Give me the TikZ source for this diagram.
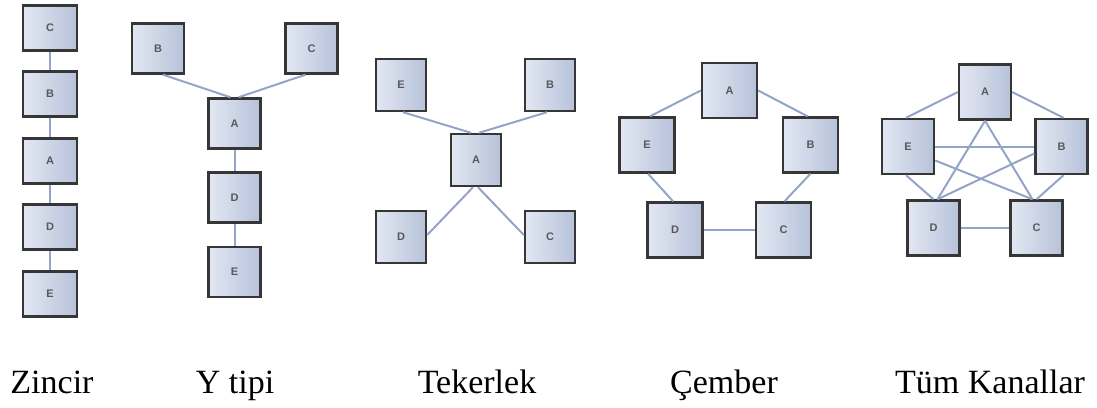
\documentclass[tikz,border=0pt]{standalone}
\usepackage{fontspec}
\setmainfont{Liberation Serif}
\newfontfamily\kutufont{Liberation Sans}
\usepackage{tikz}
\usetikzlibrary{shadows}

\definecolor{kenar}{HTML}{363636}
\definecolor{hatrenk}{HTML}{93A4C8}
\definecolor{acik}{HTML}{E2E7F2}
\definecolor{koyu}{HTML}{B7C2DA}

\tikzset{
  kutu/.style={draw=kenar, line width=2.4pt, left color=acik, right color=koyu,
    inner sep=0pt, font=\kutufont\fontsize{11}{13}\selectfont\bfseries,
    text=black!65, drop shadow={opacity=0.25, shadow xshift=1.2pt, shadow yshift=-1.2pt}},
  hat/.style={draw=hatrenk, line width=2pt},
  baslik/.style={anchor=base, font=\fontsize{34}{40}\selectfont}
}

\begin{document}
\begin{tikzpicture}[x=1pt, y=-1pt]
  \useasboundingbox (0,0) rectangle (1097,407);

  % Zincir
  \foreach \ad/\yy in {C/28, B/94, A/161, D/227, E/294}
    \node[kutu, minimum width=54pt, minimum height=45pt] (z\ad) at (50,\yy) {\ad};
  \draw[hat] (zC) -- (zB);
  \draw[hat] (zB) -- (zA);
  \draw[hat] (zA) -- (zD);
  \draw[hat] (zD) -- (zE);

  % Y tipi
  \tikzset{ykutu/.style={kutu, minimum width=52pt, minimum height=50pt}}
  \node[ykutu] (yB) at (158,48.5) {B};
  \node[ykutu] (yC) at (311.5,48.5) {C};
  \node[ykutu] (yA) at (234.5,123.5) {A};
  \node[ykutu] (yD) at (234.5,197.5) {D};
  \node[ykutu] (yE) at (234.5,272) {E};
  \draw[hat] ([xshift=5pt]yB.south) -- ([xshift=-4pt]yA.north);
  \draw[hat] ([xshift=-6pt]yC.south) -- ([xshift=4pt]yA.north);
  \draw[hat] (yA) -- (yD);
  \draw[hat] (yD) -- (yE);

  % Tekerlek
  \tikzset{tkutu/.style={kutu, minimum width=50pt, minimum height=52pt}}
  \node[tkutu] (tE) at (401,85) {E};
  \node[tkutu] (tB) at (550,85) {B};
  \node[tkutu] (tA) at (476,160) {A};
  \node[tkutu] (tD) at (401,237) {D};
  \node[tkutu] (tC) at (550,237) {C};
  \draw[hat] ([xshift=2pt]tE.south) -- ([xshift=-5pt]tA.north);
  \draw[hat] ([xshift=-3pt]tB.south) -- ([xshift=3pt]tA.north);
  \draw[hat] ([xshift=-3pt]tA.south) -- ([yshift=2pt]tD.east);
  \draw[hat] ([xshift=2pt]tA.south) -- ([yshift=2pt]tC.west);

  % Cember
  \tikzset{ckutu/.style={kutu, minimum width=55pt, minimum height=55pt}}
  \node[ckutu] (cA) at (729.5,90.5) {A};
  \node[ckutu] (cE) at (647,145) {E};
  \node[ckutu] (cB) at (810.5,145) {B};
  \node[ckutu] (cD) at (675,230) {D};
  \node[ckutu] (cC) at (783.5,230) {C};
  \draw[hat] (cA.west) -- ([xshift=3pt]cE.north);
  \draw[hat] (cA.east) -- ([xshift=-3pt]cB.north);
  \draw[hat] ([xshift=1pt]cE.south) -- ([xshift=-2pt]cD.north);
  \draw[hat] (cB.south) -- ([xshift=1pt]cC.north);
  \draw[hat] (cD) -- (cC);

  % Tum Kanallar
  \tikzset{kkutu/.style={kutu, minimum width=52pt, minimum height=55pt}}
  \node[kkutu] (kA) at (985,92) {A};
  \node[kkutu] (kE) at (908,146.5) {E};
  \node[kkutu] (kB) at (1061.5,146.5) {B};
  \node[kkutu] (kD) at (933.5,228) {D};
  \node[kkutu] (kC) at (1036.5,228) {C};
  \draw[hat] (kA.west) -- ([xshift=-2pt]kE.north);
  \draw[hat] (kA.east) -- ([xshift=2pt]kB.north);
  \draw[hat] (kE) -- (kB);
  \draw[hat] (kD) -- (kC);
  \draw[hat] ([xshift=-2pt]kE.south) -- (kD.north);
  \draw[hat] ([xshift=2pt]kB.south) -- (kC.north);
  \draw[hat] ([yshift=-14pt]kE.east) -- ([xshift=-4pt]kC.north);
  \draw[hat] ([yshift=-7pt]kB.west) -- ([xshift=4pt]kD.north);
  \draw[hat] (kA.south) -- ([xshift=4pt]kD.north);
  \draw[hat] (kA.south) -- ([xshift=-4pt]kC.north);

  % Basliklar
  \node[baslik] (bZ) at (52,393) {Zincir};
  \node[baslik] (bY) at (235,393) {Y tipi};
  \node[baslik] (bT) at (477,393) {Tekerlek};
  \node[baslik] (bC) at (724,393) {Çember};
  \node[baslik] (bK) at (990,393) {Tüm Kanallar};
\end{tikzpicture}
\end{document}
